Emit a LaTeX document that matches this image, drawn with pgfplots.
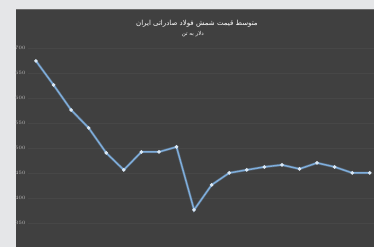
\documentclass[border=0pt]{standalone}
\usepackage{fontspec}
\usepackage{pgfplots}
\pgfplotsset{compat=1.18}
\TeXXeTstate=1
\newfontfamily\arabicfont[Script=Arabic]{DejaVu Sans}
\definecolor{outerbg}{HTML}{E5E6E8}
\definecolor{panel}{HTML}{404040}
\definecolor{gridc}{HTML}{474747}
\definecolor{lineblue}{HTML}{7FAEDC}
\definecolor{ticklab}{HTML}{BDBDBD}
\begin{document}
\begin{tikzpicture}[x=1pt,y=1pt]
\fill[outerbg] (0,0) rectangle (374,247);
\fill[panel] (16,0) rectangle (374,238);
\fill[gray!70!panel] (16,236.5) rectangle (374,238);
\begin{axis}[
  at={(28pt,0pt)}, anchor=south west,
  scale only axis, width=346pt, height=238pt,
  xmin=-0.455, xmax=19.23,
  ymin=302, ymax=778,
  axis line style={draw=none},
  xtick=\empty,
  ytick={350,400,...,700},
  major tick length=0pt,
  ymajorgrids, grid style={gridc, line width=0.4pt},
  yticklabel style={font=\fontsize{5}{5}\selectfont, text=ticklab, xshift=1pt},
  clip=false,
]
\addplot[lineblue!60!panel, line width=2.6pt, opacity=0.6, forget plot]
coordinates {
(0,674) (1,626) (2,576) (3,540) (4,490) (5,456) (6,492) (7,492) (8,502) (9,376)
(10,426) (11,450) (12,456) (13,462) (14,466) (15,458) (16,470) (17,462) (18,450) (19,450)
};
\addplot[lineblue, line width=1.4pt, mark=*, mark size=1pt,
  mark options={fill=white!85!lineblue, draw=white!70!lineblue}]
coordinates {
(0,674) (1,626) (2,576) (3,540) (4,490) (5,456) (6,492) (7,492) (8,502) (9,376)
(10,426) (11,450) (12,456) (13,462) (14,466) (15,458) (16,470) (17,462) (18,450) (19,450)
};
\end{axis}
\node[text=white, font=\arabicfont\fontsize{7}{8}\selectfont] at (197,223) {\beginR متوسط قیمت شمش فولاد صادراتی ایران\endR};
\node[text=white, font=\arabicfont\fontsize{5.5}{6}\selectfont] at (193,213) {\beginR دلار به تن\endR};
\end{tikzpicture}
\end{document}
